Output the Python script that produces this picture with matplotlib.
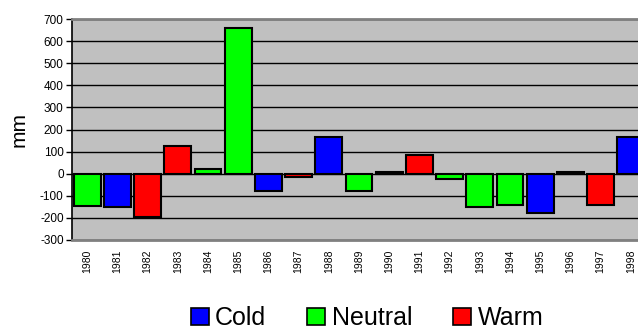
import matplotlib
matplotlib.use("Agg")
import matplotlib.pyplot as plt
from matplotlib.patches import Patch

# Rainfall anomaly per year (mm) and ENSO phase of each year
years = [str(y) for y in range(1980, 1999)]
anomaly_mm = [-148, -150, -198, 125, 20, 660, -80, -15, 165, -78,
              7, 86, -26, -150, -140, -178, 7, -142, 167]
phase = ["Neutral", "Cold", "Warm", "Warm", "Neutral", "Neutral", "Cold",
         "Warm", "Cold", "Neutral", "Neutral", "Warm", "Neutral", "Neutral",
         "Neutral", "Cold", "Neutral", "Warm", "Cold"]
phase_names = ["Cold", "Neutral", "Warm"]
phase_colors = {"Cold": "#0000FF", "Neutral": "#00FF00", "Warm": "#FF0000"}
y_ticks = list(range(-300, 701, 100))

plt.rcParams["font.family"] = ["Liberation Sans", "DejaVu Sans"]

fig = plt.figure(figsize=(6.38, 3.31), dpi=100)
ax = fig.add_axes([72 / 638, 1 - 240 / 331, 574 / 638, 221 / 331])
ax.set_facecolor("#C0C0C0")

x = list(range(len(years)))
ax.bar(x, anomaly_mm, width=0.89,
       color=[phase_colors[p] for p in phase],
       edgecolor="black", linewidth=1.5, zorder=3)

ax.set_xlim(-0.5, len(years) - 0.5)
ax.set_ylim(-300, 700)
ax.set_yticks(y_ticks)
ax.set_yticklabels([str(v) for v in y_ticks], fontsize=8.5)
ax.set_xticks(x)
ax.set_xticklabels(years, rotation=90, fontsize=7.5, va="top")
ax.tick_params(axis="x", length=0, pad=7)
ax.tick_params(axis="y", direction="out", length=4, width=1, color="black", pad=2)

ax.yaxis.grid(True, color="black", linewidth=1.0, zorder=1)
ax.set_axisbelow(True)

for side in ("top", "bottom"):
    ax.spines[side].set_color("#808080")
    ax.spines[side].set_linewidth(2)
ax.spines["right"].set_visible(False)
ax.spines["left"].set_color("black")
ax.spines["left"].set_linewidth(1.2)

ax.set_ylabel("mm", fontsize=15, labelpad=8)

handles = [Patch(facecolor=phase_colors[n], edgecolor="black", linewidth=1.2)
           for n in phase_names]
fig.legend(handles, phase_names, loc="center", ncol=3,
           bbox_to_anchor=(367 / 638, 1 - 318 / 331),
           fontsize=18, frameon=False, handlelength=0.72, handleheight=0.68,
           handletextpad=0.25, columnspacing=1.65, borderpad=0)

fig.savefig("out.png", dpi=100)
